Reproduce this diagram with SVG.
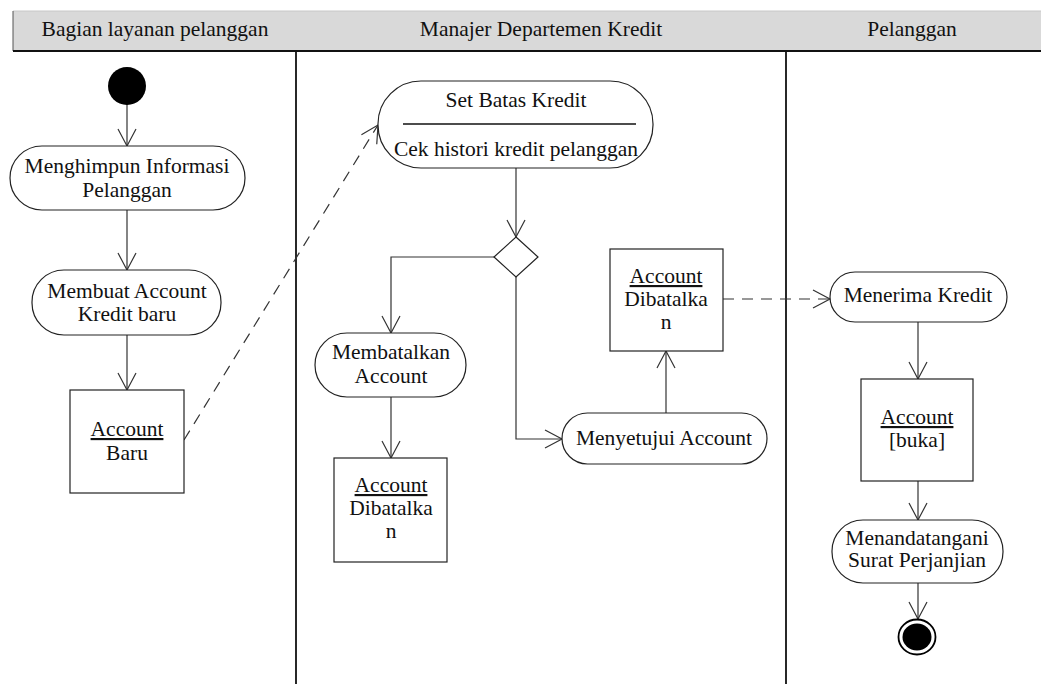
<svg xmlns="http://www.w3.org/2000/svg" width="1041" height="684" viewBox="0 0 1041 684" font-family="'Liberation Serif', 'Times New Roman', Times, 'DejaVu Serif', serif">
  <defs>
    <style>
      text { font-family: 'Liberation Serif', 'Times New Roman', Times, 'DejaVu Serif', serif; font-size: 21.5px; fill: #111; text-anchor: middle; }
      .act { fill: #fff; stroke: #222; stroke-width: 1.2; }
      .obj { fill: #fff; stroke: #222; stroke-width: 1.2; }
      .flow { fill: none; stroke: #333; stroke-width: 1.2; marker-end: url(#open); }
      .dep { fill: none; stroke: #333; stroke-width: 1.2; stroke-dasharray: 11 8; marker-end: url(#open); }
      .lane { stroke: #111; stroke-width: 1.8; }
      .u { text-decoration: underline; }
    </style>
    <marker id="open" viewBox="0 0 20 20" refX="18" refY="10" markerWidth="20" markerHeight="20" markerUnits="userSpaceOnUse" orient="auto">
      <path d="M1,1 L18,10 L1,19" fill="none" stroke="#333" stroke-width="1.2"/>
    </marker>
  </defs>

  <!-- swimlane header -->
  <g id="lanes">
    <rect x="13" y="11" width="1030" height="40" fill="#d9d9d9" stroke="none"/>
    <line x1="13" y1="11" x2="1041" y2="11" stroke="#c8c8c8" stroke-width="1"/>
    <line x1="13" y1="11" x2="13" y2="51" stroke="#555" stroke-width="1"/>
    <line x1="13" y1="51" x2="1041" y2="51" stroke="#111" stroke-width="1.8"/>
    <line class="lane" x1="296" y1="51" x2="296" y2="684"/>
    <line class="lane" x1="786" y1="51" x2="786" y2="684"/>
    <text x="155" y="36">Bagian layanan pelanggan</text>
    <text x="541" y="36">Manajer Departemen Kredit</text>
    <text x="912" y="36">Pelanggan</text>
  </g>

  <!-- connectors -->
  <g id="connectors">
    <path class="flow" d="M127,104 V146"/>
    <path class="flow" d="M127,210 V270"/>
    <path class="flow" d="M127,335 V390"/>
    <path class="dep" d="M184,440 L378,125"/>
    <path class="flow" d="M516,168 V237"/>
    <path class="flow" d="M494,257 H391 V333"/>
    <path class="flow" d="M391,397 V458"/>
    <path class="flow" d="M516,277 V439 H562"/>
    <path class="flow" d="M666,413 V351"/>
    <path class="dep" d="M723,299 H830"/>
    <path class="flow" d="M918,322 V379"/>
    <path class="flow" d="M918,481 V520"/>
    <path class="flow" d="M918,583 V619"/>
  </g>

  <g id="start">
    <circle cx="127" cy="86" r="19" fill="#000"/>
  </g>

  <g id="menghimpun">
    <rect class="act" x="10" y="146" width="235" height="64" rx="32" ry="32"/>
    <text x="127" y="173">Menghimpun Informasi</text>
    <text x="127" y="197">Pelanggan</text>
  </g>

  <g id="membuat">
    <rect class="act" x="32" y="270" width="189" height="65" rx="32" ry="32"/>
    <text x="127" y="298">Membuat Account</text>
    <text x="127" y="321">Kredit baru</text>
  </g>

  <g id="account-baru">
    <rect class="obj" x="70" y="390" width="114" height="103"/>
    <text x="127" y="436" class="u">Account</text>
    <text x="127" y="460">Baru</text>
  </g>

  <g id="set-batas">
    <rect class="act" x="378" y="81" width="275" height="87" rx="43" ry="43"/>
    <text x="516" y="107">Set Batas Kredit</text>
    <line x1="403" y1="124" x2="636" y2="124" stroke="#111" stroke-width="1.4"/>
    <text x="516" y="156">Cek histori kredit pelanggan</text>
  </g>

  <g id="decision">
    <polygon class="act" points="516,237 538,257 516,277 494,257"/>
  </g>

  <g id="membatalkan">
    <rect class="act" x="315" y="333" width="151" height="64" rx="32" ry="32"/>
    <text x="391" y="359">Membatalkan</text>
    <text x="391" y="383">Account</text>
  </g>

  <g id="dibatalkan-1">
    <rect class="obj" x="334" y="458" width="113" height="104"/>
    <text x="391" y="492" class="u">Account</text>
    <text x="391" y="515">Dibatalka</text>
    <text x="391" y="538">n</text>
  </g>

  <g id="menyetujui">
    <rect class="act" x="562" y="413" width="205" height="51" rx="25.5" ry="25.5"/>
    <text x="664" y="445">Menyetujui Account</text>
  </g>

  <g id="dibatalkan-2">
    <rect class="obj" x="610" y="249" width="113" height="102"/>
    <text x="666" y="283" class="u">Account</text>
    <text x="666" y="306">Dibatalka</text>
    <text x="666" y="329">n</text>
  </g>

  <g id="menerima">
    <rect class="act" x="830" y="272" width="177" height="50" rx="25" ry="25"/>
    <text x="918" y="302">Menerima Kredit</text>
  </g>

  <g id="account-buka">
    <rect class="obj" x="861" y="379" width="112" height="102"/>
    <text x="917" y="424" class="u">Account</text>
    <text x="917" y="447">[buka]</text>
  </g>

  <g id="menandatangani">
    <rect class="act" x="832" y="520" width="171" height="63" rx="31" ry="31"/>
    <text x="917" y="545">Menandatangani</text>
    <text x="917" y="567">Surat Perjanjian</text>
  </g>

  <g id="end">
    <ellipse cx="917" cy="637" rx="18.5" ry="17.5" fill="#fff" stroke="#000" stroke-width="1.8"/>
    <ellipse cx="917" cy="637" rx="14.5" ry="13.5" fill="#000"/>
  </g>
</svg>
